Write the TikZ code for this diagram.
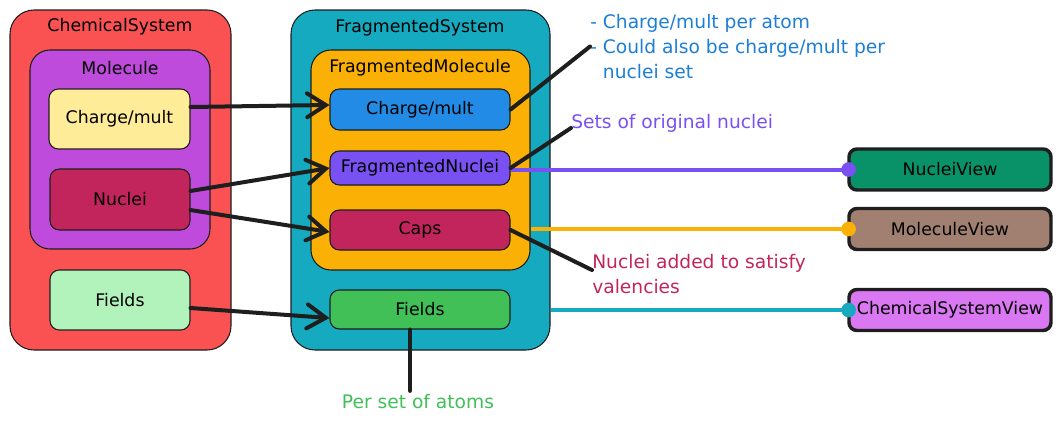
\documentclass[tikz,border=0pt]{standalone}
\usepackage{fontspec}
\setmainfont{DejaVu Sans}
\usepackage{xcolor}
\usetikzlibrary{arrows.meta}

\definecolor{ink}{HTML}{1E1E1E}
\definecolor{csred}{HTML}{FA5252}
\definecolor{molgrape}{HTML}{BE4BDB}
\definecolor{chgyellow}{HTML}{FFEC99}
\definecolor{nuccrimson}{HTML}{C2255C}
\definecolor{fldmint}{HTML}{B2F2BB}
\definecolor{fscyan}{HTML}{15AABF}
\definecolor{fmorange}{HTML}{FAB005}
\definecolor{fchgblue}{HTML}{228BE6}
\definecolor{fnucviolet}{HTML}{7950F2}
\definecolor{ffldgreen}{HTML}{40C057}
\definecolor{nvteal}{HTML}{099268}
\definecolor{mvbrown}{HTML}{A18072}
\definecolor{csvviolet}{HTML}{DA77F2}
\definecolor{noteblue}{HTML}{1C7ED6}

\begin{document}
\begin{tikzpicture}[x=0.75pt,y=-0.75pt,
    box/.style 2 args={draw=ink, line width=0.8pt, rounded corners=7pt,
        minimum width=#1*0.75pt, minimum height=#2*0.75pt, inner sep=0pt,
        font=\fontsize{13}{15}\selectfont},
    group/.style 2 args={box={#1}{#2}, rounded corners=18pt},
    viewbox/.style={box={202}{41}, line width=2.6pt, rounded corners=6pt},
    title/.style={inner sep=0pt, font=\fontsize{13}{15}\selectfont},
    note/.style={inner sep=0pt, align=left, font=\fontsize{14}{18.75}\selectfont},
    link/.style={draw=ink, line width=3pt, line cap=round,
        -{Straight Barb[length=14pt,width=18pt,line cap=round]}},
    tag/.style={draw=ink, line width=3pt, line cap=round},
    wire/.style={line width=3pt}]

     \useasboundingbox (0,0) rectangle (1060,425);

     % ChemicalSystem
     \node[group={221}{340}, fill=csred] (chemsys) at (120.5,180) {};
     \node[title] (chemsystitle) at (120,27) {ChemicalSystem};
     \node[group={180}{199}, fill=molgrape, rounded corners=15pt] (mol) at (120,149.5) {};
     \node[title] (moltitle) at (120,68) {Molecule};
     \node[box={141}{60}, fill=chgyellow] (chg) at (119.5,119) {Charge/mult};
     \node[box={140}{61}, fill=nuccrimson] (nuc) at (120,199.5) {Nuclei};
     \node[box={140}{60}, fill=fldmint] (fld) at (120,300) {Fields};

     % FragmentedSystem
     \node[group={259}{340}, fill=fscyan] (fragsys) at (420.5,180) {};
     \node[title] (fragsystitle) at (420,28) {FragmentedSystem};
     \node[group={219}{220}, fill=fmorange, rounded corners=15pt] (fragmol) at (420.5,160) {};
     \node[title] (fragmoltitle) at (420,68) {FragmentedMolecule};
     \node[box={180}{41}, fill=fchgblue] (fchg) at (420,109.5) {Charge/mult};
     \node[box={180}{34}, fill=fnucviolet] (fnuc) at (420,168) {FragmentedNuclei};
     \node[box={180}{40}, fill=nuccrimson] (caps) at (420,230) {Caps};
     \node[box={180}{39}, fill=ffldgreen] (ffld) at (420,309.5) {Fields};

     % Views
     \node[viewbox, fill=nvteal] (nview) at (950,169.5) {NucleiView};
     \node[viewbox, fill=mvbrown] (mview) at (950,229) {MoleculeView};
     \node[viewbox, fill=csvviolet] (csview) at (950,310) {ChemicalSystemView};

     % Mapping between the two systems
     \draw[link] ([yshift=9pt]chg.east) -- ([yshift=3.4pt]fchg.west);
     \draw[link] ([yshift=6.4pt]nuc.east) -- (fnuc.west);
     \draw[link] ([yshift=-7.9pt]nuc.east) -- ([yshift=-1.5pt]caps.west);
     \draw[link] ([yshift=-6pt]fld.east) -- ([yshift=-6.4pt]ffld.west);

     % Connect to the views
     \draw[wire, fnucviolet] (fnuc.east |- nview.west) -- (nview.west);
     \fill[fnucviolet] ([xshift=1pt]nview.west) circle (5.5pt);
     \draw[wire, fmorange] (fragmol.east |- mview.west) -- (mview.west);
     \fill[fmorange] ([xshift=1pt]mview.west) circle (5.5pt);
     \draw[wire, fscyan] (fragsys.east |- csview.west) -- (csview.west);
     \fill[fscyan] ([xshift=1pt]csview.west) circle (5.5pt);

     % Notes
     \node[note, text=noteblue, anchor=north west] (chgnote) at (590,14)
      {- Charge/mult per atom\\- Could also be charge/mult per\\\phantom{- }nuclei set};
     \draw[tag] (fchg.east) -- (chgnote.west);
     \node[note, text=fnucviolet, anchor=base west] (nucnote) at (571,128) {Sets of original nuclei};
     \draw[tag] (fnuc.east) -- (nucnote.base west);
     \node[note, text=nuccrimson, anchor=north west] (capsnote) at (592,254)
      {Nuclei added to satisfy\\valencies};
     \draw[tag] (caps.east) -- ([yshift=-12pt]capsnote.north west);
     \node[note, text=ffldgreen, anchor=base] (atomsnote) at (418,408) {Per set of atoms};
     \draw[tag] ([xshift=-7.5pt]ffld.south) -- ([xshift=-7.5pt,yshift=2pt]ffld.south |- atomsnote.north);

\end{tikzpicture}
\end{document}
